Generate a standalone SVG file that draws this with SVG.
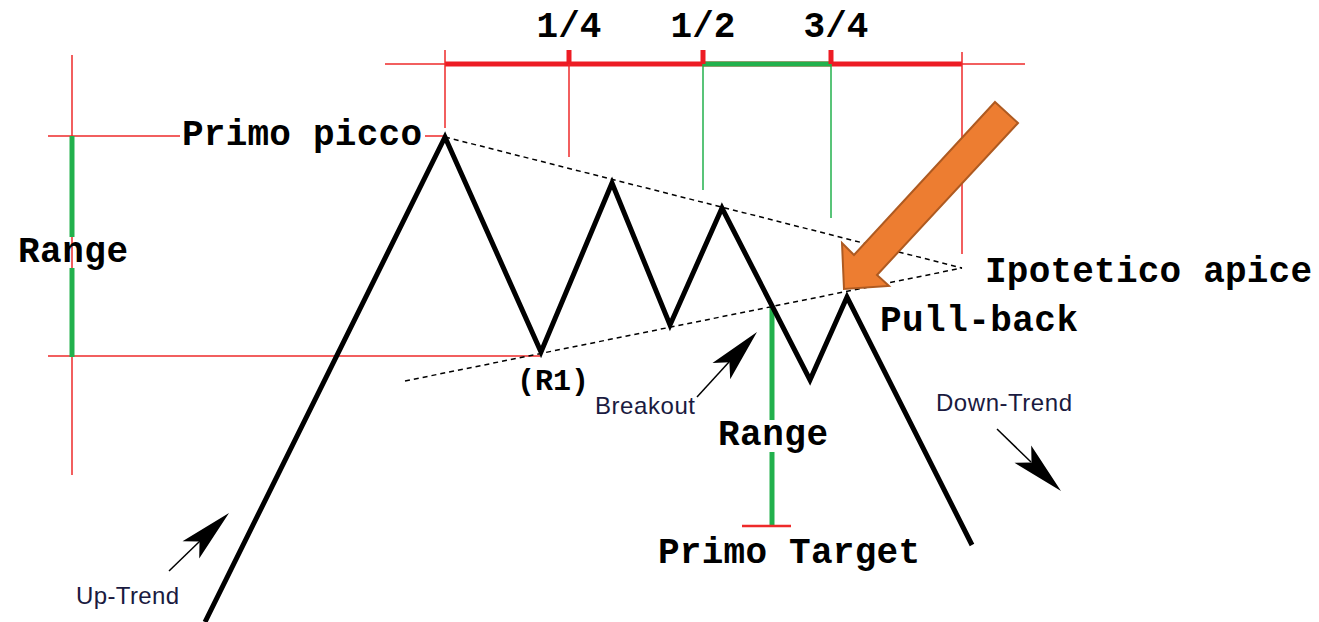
<svg xmlns="http://www.w3.org/2000/svg" width="1319" height="622" viewBox="0 0 1319 622">
<style>
.thinR{stroke:#EE2A2A;stroke-width:1.5;fill:none}
.thickR{stroke:#ED1C24;stroke-width:5;fill:none}
.thinG{stroke:#22B14C;stroke-width:1.5;fill:none}
.thickG{stroke:#22B14C;stroke-width:5;fill:none}
.price{stroke:#000;stroke-width:5;fill:none;stroke-linejoin:miter}
.dot{stroke:#000;stroke-width:1.5;stroke-dasharray:5 4;fill:none}
.mono{font-family:"Liberation Mono","Courier New",monospace;font-weight:bold;font-size:36px;fill:#000}
.sans{font-family:"Liberation Sans",Arial,sans-serif;font-size:24px;fill:#1a1a40}
.pt{stroke:#000;stroke-width:1.5;fill:none}
</style>
<defs>
<path id="dart" d="M0,0 L-53,-12 L-41,0 L-53,12 Z" fill="#000"/>
</defs>
<g id="grid">
<line class="thinR" x1="385" y1="64" x2="1025" y2="64"/>
<line class="thickR" x1="445" y1="64" x2="962" y2="64"/>
<line class="thickG" x1="703" y1="64" x2="831" y2="64"/>
<line class="thickR" x1="569" y1="50" x2="569" y2="64"/>
<line class="thickR" x1="703" y1="50" x2="703" y2="64"/>
<line class="thickR" x1="831" y1="50" x2="831" y2="64"/>
<line class="thinR" x1="445" y1="50" x2="445" y2="128"/>
<line class="thinR" x1="569" y1="64" x2="569" y2="157"/>
<line class="thinG" x1="703" y1="64" x2="703" y2="190"/>
<line class="thinG" x1="831" y1="64" x2="831" y2="218"/>
<line class="thinR" x1="962" y1="52" x2="962" y2="254"/>
<line class="thinR" x1="72" y1="55" x2="72" y2="475"/>
<line class="thinR" x1="48" y1="136" x2="180" y2="136"/>
<line class="thinR" x1="425" y1="136" x2="445" y2="136"/>
<line class="thinR" x1="48" y1="356" x2="540" y2="356"/>
<line class="thickG" x1="72" y1="136" x2="72" y2="237"/>
<line class="thickG" x1="72" y1="268" x2="72" y2="357"/>
<line class="thickG" x1="772" y1="307" x2="772" y2="420"/>
<line class="thickG" x1="772" y1="452" x2="772" y2="526"/>
<line class="thinR" x1="742" y1="526" x2="791" y2="526" style="stroke-width:2.5"/>
</g>
<g id="connectors">
<line class="dot" x1="445" y1="137" x2="962" y2="268"/>
<line class="dot" x1="405" y1="381" x2="962" y2="268"/>
<line class="pt" x1="697" y1="397" x2="729" y2="362"/>
<use href="#dart" transform="translate(757,332) rotate(-47.7)"/>
<line class="pt" x1="169" y1="571" x2="200" y2="541"/>
<use href="#dart" transform="translate(229,513) rotate(-44)"/>
<line class="pt" x1="997" y1="429" x2="1031" y2="462"/>
<use href="#dart" transform="translate(1061,491) rotate(44)"/>
</g>
<g id="price">
<polyline class="price" points="205,622 445,137 541,352 612,183 670,325 722,208 810,380 847,297 972,545"/>
</g>
<g id="orange-arrow">
<polygon points="995,102 1018,123 877,275 889,286 844,289 842,243 854,255" fill="#ED7D31" stroke="#AE5A21" stroke-width="2" stroke-linejoin="miter"/>
</g>
<g id="labels">
<text class="mono" x="569" y="37" text-anchor="middle">1/4</text>
<text class="mono" x="703" y="37" text-anchor="middle">1/2</text>
<text class="mono" x="836" y="37" text-anchor="middle">3/4</text>
<text class="mono" x="182" y="145" textLength="240">Primo picco</text>
<text class="mono" x="18" y="262" textLength="110">Range</text>
<text class="mono" x="985" y="282" textLength="327">Ipotetico apice</text>
<text class="mono" x="880" y="331" textLength="198">Pull-back</text>
<text class="mono" x="517" y="390" style="font-size:30px">(R1)</text>
<text class="mono" x="718" y="445" textLength="110">Range</text>
<text class="mono" x="658" y="563" textLength="262">Primo Target</text>
<text class="sans" x="595" y="414" textLength="100">Breakout</text>
<text class="sans" x="936" y="411" textLength="136">Down-Trend</text>
<text class="sans" x="76" y="604" textLength="103">Up-Trend</text>
</g>
</svg>
